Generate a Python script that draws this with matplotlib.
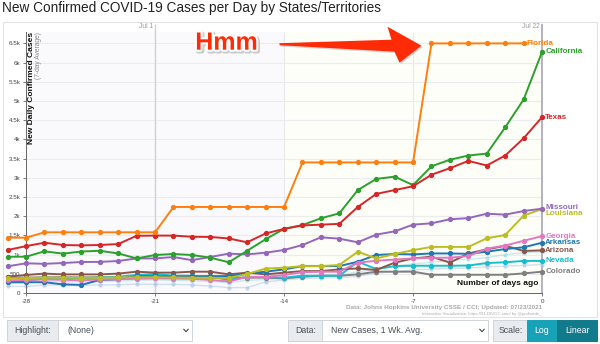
import matplotlib
matplotlib.use("Agg")
import numpy as np
import matplotlib.pyplot as plt
from matplotlib.patches import Rectangle, Polygon
from matplotlib.lines import Line2D
import matplotlib.patheffects as pe

plt.rcParams['font.family'] = ['Liberation Sans', 'DejaVu Sans']

# ---- data: 7-day average of new cases, days relative to Jul 22 ----
days = list(range(-29, 1))

florida = [1440, 1440, 1580, 1580, 1580, 1580, 1580, 1580, 1580,
           2240, 2240, 2240, 2240, 2240, 2240, 2240,
           3400, 3400, 3400, 3400, 3400, 3400, 3400,
           6500, 6500, 6500, 6500, 6500, 6500, np.nan]
california = [945, 945, 1085, 1025, 1080, 1100, 1030, 900, 990, 1015,
              990, 920, 800, 1100, 1400, 1670, 1770, 1945, 2075, 2680,
              2970, 3030, 2810, 3300, 3470, 3580, 3630, 4315, 5040, 6280]
texas = [1120, 1220, 1310, 1250, 1240, 1250, 1275, 1490, 1495, 1495,
         1465, 1460, 1420, 1320, 1550, 1670, 1760, 1780, 1800, 2240,
         2580, 2680, 2780, 3080, 3250, 3440, 3320, 3580, 4030, 4580]
missouri = [695, 773, 760, 780, 807, 810, 833, 900, 900, 937,
            855, 937, 1025, 1005, 1050, 1120, 1250, 1450, 1415, 1320,
            1520, 1605, 1780, 1815, 1920, 1950, 2065, 2040, 2135, 2195]
louisiana = [380, 390, 400, 400, 395, 400, 405, 410, 410, 405,
             400, 395, 390, 495, 635, 660, 700, 700, 730, 1075,
             900, 1015, 1115, 1200, 1200, 1200, 1425, 1510, 2015, 2190]
georgia = [330, 340, 350, 345, 330, 350, 360, 370, 380, 375,
           370, 340, 300, 420, 420, 470, 540, 555, 555, 790,
           840, 870, 900, 915, 920, 960, 1155, 1235, 1360, 1480]
arkansas = [280, 280, 280, 225, 210, 340, 355, 440, 440, 430,
            430, 440, 440, 505, 555, 615, 700, 700, 700, 815,
            990, 1015, 1005, 1030, 1030, 1020, 1075, 1145, 1190, 1310]
arizona = [425, 470, 505, 485, 485, 485, 505, 555, 530, 530,
           555, 555, 485, 530, 485, 530, 570, 570, 615, 640,
           600, 790, 900, 945, 790, 1030, 1135, 1230, 1095, 1110]
nevada = [310, 310, 380, 380, 380, 400, 425, 470, 495, 450,
          450, 425, 340, 415, 415, 400, 450, 450, 450, 815,
          625, 700, 710, 710, 710, 715, 780, 800, 835, 835]
colorado = [410, 400, 410, 410, 405, 410, 410, 415, 425, 400,
            400, 400, 400, 400, 400, 380, 425, 450, 450, 485,
            555, 555, 555, 475, 475, 475, 475, 475, 510, 555]
# dimmed background states
other_a = [260, 260, 300, 300, 290, 300, 310, 330, 340, 330,
           320, 300, 270, 330, 350, 380, 420, 440, 450, 560,
           600, 700, 760, 800, 850, 880, 920, 1000, 1050, 1080]
other_b = [170, 170, 210, 210, 200, 210, 215, 230, 225, 225,
           210, 180, 140, 140, 290, 340, 380, 390, 400, 430,
           520, 560, 600, 620, 640, 650, 680, 700, 720, 740]

series = [
    ("Colorado", colorado, "#7f7f7f", 0),
    ("Nevada", nevada, "#17becf", 0),
    ("Arizona", arizona, "#8c564b", 0),
    ("Arkansas", arkansas, "#1f77b4", 0),
    ("Georgia", georgia, "#e377c2", 0),
    ("Louisiana", louisiana, "#bcbd22", -3.6),
    ("Missouri", missouri, "#9467bd", 1.2),
    ("California", california, "#2ca02c", 0),
    ("Texas", texas, "#d62728", 0),
    ("Florida", florida, "#ff7f0e", 0),
]

ytick_vals = list(range(0, 7000, 500))
ytick_labels = ["0", "500"] + [f"{v/1000:g}k" for v in ytick_vals[2:]]
xtick_vals = [-28, -21, -14, -7, 0]

W, H = 600, 344
fig = plt.figure(figsize=(W / 100, H / 100), dpi=100)
fig.patch.set_facecolor("white")


def fx(px):
    return px / W


def fy(py):
    return 1 - py / H


# chart frame
fig.add_artist(Rectangle((fx(3), fy(317)), (597 - 3) / W, (317 - 22) / H,
                         transform=fig.transFigure, facecolor="white",
                         edgecolor="#e2e2e6", lw=0.8, zorder=0))

ax = fig.add_axes([fx(3), fy(317), (597 - 3) / W, (317 - 22) / H])
ax.set_xlim(-29.25, 2.98)
ax.set_ylim(-625, 7057)
ax.set_facecolor("none")

# shaded backgrounds
ax.add_patch(Rectangle((-28, 0), 14, 6800, facecolor="#fafafd", edgecolor="none", zorder=0))
ax.add_patch(Rectangle((-14, 0), 14, 6800, facecolor="#fefef8", edgecolor="none", zorder=0))

# grid
ax.hlines(ytick_vals, -28, 0, color="#ebebf0", lw=0.8, zorder=0.5)
ax.vlines([-14, -7], 0, 6800, color="#e8e8ee", lw=0.8, zorder=0.5)
ax.vlines(-21, 0, 7000, color="#cfcfd6", lw=1.0, zorder=0.6)
ax.vlines(0, 0, 7000, color="#a8a5b8", lw=1.2, zorder=0.6)
ax.text(-21, 6930, "Jul 1 ", ha="right", va="center", fontsize=4.8, color="#9a9a9a")
ax.text(0, 6930, "Jul 22 ", ha="right", va="center", fontsize=4.8, color="#9a9a9a")

# axes
for s in ("top", "right"):
    ax.spines[s].set_visible(False)
ax.spines["left"].set_position(("data", -28))
ax.spines["left"].set_bounds(0, 6800)
ax.spines["bottom"].set_position(("data", 0))
ax.spines["bottom"].set_bounds(-28, 0)
for s in ("left", "bottom"):
    ax.spines[s].set_color("#666666")
    ax.spines[s].set_linewidth(0.7)
ax.set_yticks(ytick_vals)
ax.set_yticklabels(ytick_labels)
ax.set_xticks(xtick_vals)
ax.set_xticklabels([str(v) for v in xtick_vals])
ax.tick_params(axis="both", length=2.5, width=0.6, colors="#666666",
               labelsize=4.5, labelcolor="#444444", pad=1.5)

ax.text(-27.73, 6800, "New Daily Confirmed Cases", rotation=90, ha="center",
        va="top", fontsize=6, fontweight="bold", color="#111111")
ax.text(-27.33, 6800, "(7-day Average)", rotation=90, ha="center",
        va="top", fontsize=4.8, color="#888888")

# dimmed states
ax.plot(days, other_a, color="#9edae5", lw=1.0, marker="o", ms=2.2, alpha=0.55, zorder=1)
ax.plot(days, other_b, color="#aec7e8", lw=1.0, marker="o", ms=2.2, alpha=0.55, zorder=1)

for i, (name, vals, color, dy) in enumerate(series):
    ax.plot(days, vals, color=color, lw=1.4, marker="o", ms=2.8, zorder=2 + i,
            solid_joinstyle="round")
    arr = np.array(vals, dtype=float)
    last = np.where(~np.isnan(arr))[0][-1]
    ax.annotate(name, xy=(days[last], arr[last]), xytext=(2.2, dy),
                textcoords="offset points", ha="left", va="center",
                fontsize=5.8, fontweight="bold", color=color, zorder=20)

ax.annotate("Number of days ago", xy=(0, 0), xytext=(-3, 7), textcoords="offset points",
            ha="right", va="center", fontsize=6, fontweight="bold", color="#111111")

# callout arrow pointing at the Florida jump
fig.canvas.draw()
jump = int(np.argmax(np.array(florida[:-1]) >= 6500))
tip = ax.transData.transform((days[jump], florida[jump])) + np.array([-10, -2.3])
arrow_shape = np.array([(0, 0), (-34, 19), (-30, 6), (-142, 2.5), (-142, 0.5),
                        (-27, -6), (-22, -17)])
ax.add_patch(Polygon(arrow_shape + tip, closed=True, transform=None,
                     facecolor="#ff2a06", edgecolor="none", zorder=30,
                     path_effects=[pe.SimplePatchShadow(offset=(1, -1), shadow_rgbFace="#888888", alpha=0.35),
                                   pe.Normal()]))
hmm_pos = ax.transData.inverted().transform(tip + np.array([-195, 3]))
ax.text(hmm_pos[0], hmm_pos[1], "Hmm", ha="center", va="center", fontsize=18,
        fontweight="bold", color="#ff2a06", zorder=30,
        path_effects=[pe.Stroke(linewidth=3.5, foreground="#c8c8c8", offset=(1, -1)),
                      pe.Stroke(linewidth=3, foreground="white"), pe.Normal()])

# title and source
fig.text(fx(2), fy(8), "New Confirmed COVID-19 Cases per Day by States/Territories",
         ha="left", va="center", fontsize=9.8, color="#222222")
fig.text(fx(542), fy(308), "Data: Johns Hopkins University CSSE / CCI; Updated: 07/23/2021",
         ha="right", va="center", fontsize=4.6, fontweight="bold", color="#aaaaaa")
fig.text(fx(542), fy(314.5), "Interactive Visualization: https://91-DIVOC.com/ by @profwade_",
         ha="right", va="center", fontsize=3.1, color="#aaaaaa")


# control bar
def box(x0, x1, y0, y1, face, edge="#ced4da"):
    fig.add_artist(Rectangle((fx(x0), fy(y1)), (x1 - x0) / W, (y1 - y0) / H,
                             transform=fig.transFigure, facecolor=face,
                             edgecolor=edge, lw=0.7))


def caret(x, y):
    fig.add_artist(Line2D([fx(x - 2.2), fx(x), fx(x + 2.2)], [fy(y - 1.2), fy(y + 1.2), fy(y - 1.2)],
                          transform=fig.transFigure, color="#444444", lw=0.8))


y0, y1 = 320, 341
ym = (y0 + y1) / 2
box(7, 192, y0, y1, "white")
box(7, 58, y0, y1, "#e9ecef")
fig.text(fx(14), fy(ym), "Highlight:", ha="left", va="center", fontsize=6.3, color="#495057")
fig.text(fx(67), fy(ym), "(None)", ha="left", va="center", fontsize=6.3, color="#495057")
caret(186, ym)

box(288, 488, y0, y1, "white")
box(288, 322, y0, y1, "#e9ecef")
fig.text(fx(295), fy(ym), "Data:", ha="left", va="center", fontsize=6.3, color="#495057")
fig.text(fx(331), fy(ym), "New Cases, 1 Wk. Avg.", ha="left", va="center", fontsize=6.3, color="#495057")
caret(482, ym)

box(493, 597, y0, y1, "#e9ecef")
fig.text(fx(499), fy(ym), "Scale:", ha="left", va="center", fontsize=6.3, color="#495057")
box(527, 557, y0, y1, "#17a2b8", edge="#17a2b8")
box(557, 597, y0, y1, "#117a8b", edge="#117a8b")
fig.text(fx(542), fy(ym), "Log", ha="center", va="center", fontsize=6.3, color="white")
fig.text(fx(577), fy(ym), "Linear", ha="center", va="center", fontsize=6.3, color="white")

fig.savefig("out.png", dpi=100, facecolor="white")
